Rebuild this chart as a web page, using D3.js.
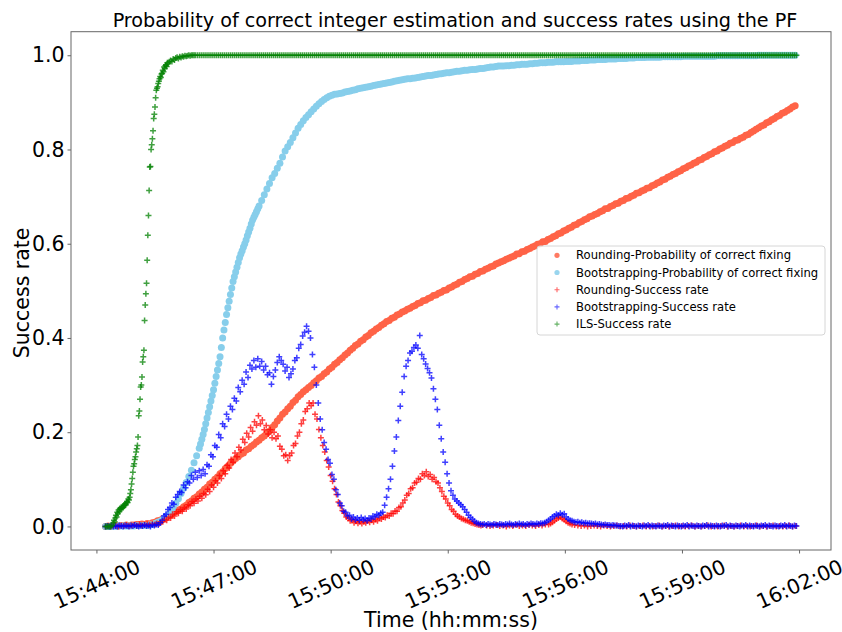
<!DOCTYPE html>
<html>
<head>
<meta charset="utf-8">
<script src="https://cdn.jsdelivr.net/npm/d3@7/dist/d3.min.js"></script>
<style>
  body { margin: 0; background: #fff; }
  svg { font-family: "DejaVu Sans", sans-serif; }
</style>
</head>
<body>
<svg id="chart" width="842" height="632"></svg>
<script>
// epochs are stored as seconds after this clock time
var startClock = "15:44:00";
var xTickLabels = ["15:44:00", "15:47:00", "15:50:00", "15:53:00", "15:56:00", "15:59:00", "16:02:00"];
var yTickValues = [0, 0.2, 0.4, 0.6, 0.8, 1.0];
var seriesNames = [
  "Rounding-Probability of correct fixing",
  "Bootstrapping-Probability of correct fixing",
  "Rounding-Success rate",
  "Bootstrapping-Success rate",
  "ILS-Success rate"
];

// [seconds, value]
var roundingProb = [
[14,0],[18,0.001],[22,0],[26,0.001],[30,0.002],[34,0.001],[38,0.002],[42,0.002],[46,0.003],[50,0.002],[54,0.003],[58,0.003],[62,0.004],[66,0.004],[70,0.005],[74,0.004],[78,0.006],[82,0.005],[86,0.008],[90,0.009],
[94,0.012],[98,0.013],[102,0.017],[106,0.018],[110,0.022],[114,0.024],[118,0.029],[122,0.031],[126,0.035],[130,0.037],[134,0.042],[138,0.045],[142,0.051],[146,0.054],[150,0.06],[154,0.063],[158,0.069],[162,0.073],[166,0.079],[170,0.083],
[174,0.09],[178,0.094],[182,0.1],[186,0.105],[190,0.112],[194,0.116],[198,0.123],[202,0.128],[206,0.134],[210,0.139],[214,0.144],[218,0.148],[222,0.153],[226,0.156],[230,0.162],[234,0.165],[238,0.17],[242,0.174],[246,0.179],[250,0.183],
[254,0.188],[258,0.192],[262,0.198],[266,0.202],[270,0.21],[274,0.216],[278,0.224],[282,0.23],[286,0.238],[290,0.243],[294,0.25],[298,0.255],[302,0.263],[306,0.268],[310,0.275],[314,0.28],[318,0.286],[322,0.29],[326,0.295],[330,0.299],
[334,0.305],[338,0.309],[342,0.315],[346,0.318],[350,0.324],[354,0.328],[358,0.334],[362,0.338],[366,0.344],[370,0.348],[374,0.354],[378,0.358],[382,0.364],[386,0.368],[390,0.374],[394,0.378],[398,0.384],[402,0.387],[406,0.393],[410,0.396],
[414,0.402],[418,0.405],[422,0.411],[426,0.414],[430,0.419],[434,0.422],[438,0.427],[442,0.43],[446,0.435],[450,0.437],[454,0.442],[458,0.444],[462,0.449],[466,0.451],[470,0.455],[474,0.457],[478,0.461],[482,0.463],[486,0.467],[490,0.469],
[494,0.473],[498,0.475],[502,0.479],[506,0.48],[510,0.484],[514,0.486],[518,0.49],[522,0.491],[526,0.495],[530,0.497],[534,0.501],[538,0.502],[542,0.506],[546,0.508],[550,0.512],[554,0.514],[558,0.518],[562,0.52],[566,0.524],[570,0.526],
[574,0.53],[578,0.531],[582,0.535],[586,0.537],[590,0.541],[594,0.542],[598,0.546],[602,0.548],[606,0.551],[610,0.553],[614,0.557],[618,0.559],[622,0.562],[626,0.564],[630,0.567],[634,0.569],[638,0.572],[642,0.574],[646,0.578],[650,0.579],
[654,0.583],[658,0.584],[662,0.588],[666,0.59],[670,0.593],[674,0.595],[678,0.599],[682,0.6],[686,0.604],[690,0.605],[694,0.609],[698,0.611],[702,0.615],[706,0.617],[710,0.621],[714,0.623],[718,0.627],[722,0.629],[726,0.633],[730,0.635],
[734,0.639],[738,0.641],[742,0.645],[746,0.647],[750,0.651],[754,0.653],[758,0.657],[762,0.659],[766,0.662],[770,0.664],[774,0.668],[778,0.67],[782,0.674],[786,0.675],[790,0.679],[794,0.681],[798,0.685],[802,0.686],[806,0.69],[810,0.692],
[814,0.696],[818,0.697],[822,0.701],[826,0.703],[830,0.707],[834,0.708],[838,0.712],[842,0.714],[846,0.718],[850,0.719],[854,0.723],[858,0.725],[862,0.729],[866,0.731],[870,0.735],[874,0.737],[878,0.741],[882,0.743],[886,0.747],[890,0.749],
[894,0.753],[898,0.755],[902,0.759],[906,0.761],[910,0.765],[914,0.767],[918,0.771],[922,0.773],[926,0.777],[930,0.779],[934,0.783],[938,0.785],[942,0.789],[946,0.791],[950,0.795],[954,0.797],[958,0.801],[962,0.803],[966,0.807],[970,0.809],
[974,0.813],[978,0.815],[982,0.819],[986,0.82],[990,0.824],[994,0.826],[998,0.83],[1002,0.832],[1006,0.836],[1010,0.839],[1014,0.843],[1018,0.846],[1022,0.85],[1026,0.852],[1030,0.857],[1034,0.859],[1038,0.863],[1042,0.866],[1046,0.87],[1050,0.872],
[1054,0.877],[1058,0.879],[1062,0.883],[1066,0.886],[1070,0.89],[1074,0.893]
];

var bootstrapProb = [
[14,0],[18,0],[22,0],[26,0],[30,0],[34,0.001],[38,0.001],[42,0.001],[46,0.001],[50,0.001],[54,0.001],[58,0.001],[62,0.002],[66,0.002],[70,0.002],[74,0.002],[78,0.002],[82,0.003],[86,0.004],[90,0.006],
[94,0.009],[98,0.011],[102,0.015],[106,0.02],[110,0.025],[114,0.032],[118,0.04],[122,0.049],[126,0.059],[130,0.07],[134,0.081],[138,0.093],[142,0.106],[146,0.119],[150,0.135],[154,0.15],[158,0.166],
[160,0.175],[162,0.185],[164,0.195],[166,0.206],[168,0.218],[170,0.23],[172,0.242],[174,0.254],[176,0.266],[178,0.278],[180,0.29],[182,0.304],[184,0.318],[186,0.332],[188,0.346],[190,0.36],[192,0.38],[194,0.4],[196,0.417],[198,0.433],
[200,0.45],[202,0.464],[204,0.478],[206,0.492],[208,0.506],[210,0.52],[212,0.53],[214,0.54],[216,0.55],[218,0.56],[220,0.57],[222,0.578],[224,0.585],[226,0.593],[228,0.6],[230,0.608],[232,0.617],[234,0.625],[236,0.633],[238,0.642],
[240,0.65],[242,0.656],[244,0.662],[246,0.668],[248,0.674],[250,0.68],
[254,0.692],[258,0.704],[262,0.716],[266,0.728],[270,0.74],[274,0.749],[278,0.76],[282,0.771],[286,0.784],[290,0.797],[294,0.806],[298,0.815],[302,0.825],[306,0.835],[310,0.845],[314,0.853],[318,0.861],[322,0.868],[326,0.874],[330,0.88],
[334,0.886],[338,0.892],[342,0.897],[346,0.902],[350,0.906],[354,0.91],[358,0.913],[362,0.915],[366,0.917],[370,0.918],[374,0.919],[378,0.92],[382,0.922],[386,0.923],[390,0.924],[394,0.926],[398,0.927],[402,0.929],[406,0.93],
[410,0.931],[414,0.932],[418,0.933],[422,0.934],[426,0.936],[430,0.937],[434,0.938],[438,0.939],[442,0.94],[446,0.941],[450,0.942],[454,0.943],[458,0.945],[462,0.946],[466,0.947],[470,0.948],[474,0.949],[478,0.95],[482,0.95],[486,0.951],
[490,0.952],[494,0.953],[498,0.954],[502,0.955],[506,0.956],[510,0.957],[514,0.957],[518,0.958],[522,0.959],[526,0.96],[530,0.961],[534,0.962],[538,0.963],[542,0.963],[546,0.964],
[550,0.965],[554,0.966],[558,0.966],[562,0.967],[566,0.968],[570,0.968],[574,0.969],[578,0.97],[582,0.97],[586,0.971],[590,0.972],[594,0.972],[598,0.973],[602,0.974],[606,0.975],[610,0.975],[614,0.976],[618,0.977],[622,0.977],[626,0.977],
[630,0.978],[634,0.978],[638,0.979],[642,0.979],[646,0.98],[650,0.98],[654,0.981],[658,0.981],[662,0.981],[666,0.982],[670,0.982],[674,0.983],[678,0.983],[682,0.984],[686,0.984],[690,0.984],[694,0.985],[698,0.985],
[702,0.985],[706,0.986],[710,0.986],[714,0.986],[718,0.986],[722,0.987],[726,0.987],[730,0.987],[734,0.988],[738,0.988],[742,0.988],[746,0.989],[750,0.989],[754,0.989],[758,0.99],[762,0.99],[766,0.99],[770,0.991],[774,0.991],[778,0.991],
[782,0.991],[786,0.992],[790,0.992],[794,0.992],[798,0.992],[802,0.993],[806,0.993],[810,0.993],[814,0.993],[818,0.994],[822,0.994],[826,0.994],[830,0.995],[834,0.995],[838,0.995],[842,0.995],[846,0.996],[850,0.996],[854,0.996],[858,0.996],
[862,0.996],[866,0.996],[870,0.997],[874,0.997],[878,0.997],[882,0.997],[886,0.997],[890,0.997],[894,0.997],[898,0.997],[902,0.998],[906,0.998],[910,0.998],[914,0.998],[918,0.998],[922,0.998],[926,0.998],[930,0.998],[934,0.998],[938,0.998],
[942,0.998],[946,0.998],[950,0.998],[954,0.999],[958,0.999],[962,0.999],[966,0.999],[970,0.999],[974,0.999],[978,0.999],[982,0.999],[986,0.999],[990,0.999],[994,0.999],[998,0.999],[1002,0.999],[1006,0.999],[1010,0.999],[1014,0.999],
[1018,1],[1022,1],[1026,1],[1030,1],[1034,1],[1038,1],[1042,1],[1046,1],[1050,1],[1054,1],[1058,1],[1062,1],[1066,1],[1070,1],[1074,1]
];

var roundingSuccess = [
[14,0],[18,0.001],[22,0],[26,0.002],[30,0.001],[34,0],[38,0.002],[42,0.001],[46,0.003],[50,0.001],[54,0.002],[58,0.003],[62,0.002],[66,0.004],[70,0.002],[74,0.003],[78,0.004],[82,0.003],[86,0.005],[90,0.004],
[93,0.006],[96,0.005],[99,0.009],[102,0.01],[105,0.015],[108,0.013],[111,0.02],[114,0.018],[117,0.026],[120,0.022],[123,0.031],[126,0.028],[129,0.036],[132,0.032],[135,0.04],[138,0.037],[141,0.046],[144,0.044],[147,0.053],[150,0.049],
[153,0.058],[156,0.054],[159,0.064],[162,0.06],[165,0.07],[168,0.067],[171,0.079],[174,0.074],[177,0.088],[180,0.083],[183,0.097],[186,0.092],[189,0.108],[192,0.102],[195,0.118],[198,0.112],[201,0.13],[204,0.124],[207,0.142],[210,0.136],
[213,0.156],[216,0.148],[219,0.168],[222,0.162],[225,0.185],[228,0.178],[231,0.198],[234,0.19],[237,0.21],[240,0.202],[243,0.222],[246,0.215],[249,0.235],[252,0.218],[255,0.226],[258,0.205],[261,0.214],[264,0.196],[267,0.205],[270,0.188],
[273,0.2],[276,0.186],[279,0.192],[282,0.17],[285,0.164],[288,0.15],[291,0.152],[294,0.14],[297,0.15],[300,0.156],[303,0.172],[306,0.176],[309,0.192],[312,0.2],[315,0.218],[318,0.226],[321,0.244],[324,0.25],[327,0.262],[330,0.256],
[333,0.262],[336,0.238],[339,0.228],[342,0.206],[345,0.188],[348,0.172],[351,0.158],[354,0.14],[357,0.126],[360,0.108],[363,0.096],[366,0.08],[369,0.068],[372,0.052],[375,0.044],[378,0.034],[381,0.028],[384,0.02],[387,0.018],[390,0.012],
[393,0.014],[396,0.008],[399,0.011],[402,0.007],[405,0.01],[408,0.006],[411,0.01],[414,0.008],[417,0.012],[420,0.009],[423,0.013],[426,0.01],[429,0.015],[432,0.012],[435,0.018],[438,0.016],[441,0.02],[444,0.019],[447,0.024],[450,0.022],
[453,0.028],[456,0.027],[459,0.033],[462,0.032],[465,0.04],[468,0.042],[471,0.05],[474,0.056],[477,0.066],[480,0.07],[483,0.08],[486,0.082],[489,0.092],[492,0.094],[495,0.102],[498,0.1],[501,0.112],[504,0.108],[507,0.116],[510,0.106],
[513,0.11],[516,0.1],[519,0.104],[522,0.095],[525,0.092],[528,0.082],[531,0.074],[534,0.064],[537,0.058],[540,0.05],[543,0.044],[546,0.036],[549,0.032],[552,0.026],[555,0.022],[558,0.02],[561,0.017],[564,0.015],[567,0.013],[570,0.012],
[573,0.01],[576,0.008],[579,0.007],[582,0.005],[585,0.004],[588,0.003],[591,0.002],[594,0.003],
[600,0.002],[605,0.001],[610,0.002],[615,0.003],[620,0.001],[625,0.002],[630,0],[635,0.002],[640,0.001],[645,0.003],[650,0.001],[655,0.002],[660,0.001],[665,0.003],[670,0.002],[675,0.001],[680,0.003],[685,0.002],[690,0.004],[695,0.004],
[698,0.006],[701,0.009],[704,0.012],[707,0.016],[710,0.018],[713,0.02],[716,0.017],[719,0.014],[722,0.011],[725,0.008],[728,0.006],[731,0.004],[735,0.003],
[740,0.002],[745,0.001],[750,0.002],[755,0],[760,0.001],[765,0.002],[770,0.001],[775,0],[780,0.002],[785,0.001],[790,0],[795,0.001],[800,0.002],[805,0],[810,0.001],[815,0],[820,0.002],[825,0.001],[830,0],[835,0.001],
[840,0.002],[845,0],[850,0.001],[855,0],[860,0.001],[865,0.002],[870,0],[875,0.001],[880,0],[885,0.001],[890,0.002],[895,0],[900,0.001],[905,0],[910,0.001],[915,0.002],[920,0],[925,0.001],[930,0],[935,0.001],
[940,0.002],[945,0],[950,0.001],[955,0],[960,0.001],[965,0.002],[970,0],[975,0.001],[980,0],[985,0.001],[990,0.002],[995,0],[1000,0.001],[1005,0],[1010,0.001],[1015,0.002],[1020,0],[1025,0.001],[1030,0],[1035,0.001],
[1040,0.002],[1045,0],[1050,0.001],[1055,0],[1060,0.001],[1065,0.002],[1070,0],[1075,0.001]
];

var bootstrapSuccess = [
[14,0],[17,0.001],[20,0],[23,0.002],[26,0],[29,0.001],[32,0],[35,0.002],[38,0.001],[41,0],[44,0.002],[47,0.001],[50,0],[53,0.002],[56,0.001],[59,0.003],[62,0.001],[65,0],[68,0.002],[71,0.001],
[74,0.003],[77,0.001],[80,0.002],[83,0],[86,0.003],[89,0.002],[92,0.004],[95,0.003],
[98,0.008],[101,0.013],[104,0.022],[107,0.026],[110,0.036],[113,0.04],[116,0.05],[119,0.047],[122,0.062],[125,0.068],[128,0.074],[131,0.072],[134,0.088],[137,0.082],[140,0.095],[143,0.092],[146,0.108],[149,0.1],[152,0.115],[155,0.104],
[158,0.118],[161,0.108],[164,0.121],[167,0.112],[170,0.131],[173,0.128],[176,0.152],[179,0.148],[182,0.172],[185,0.168],[188,0.195],[191,0.188],[194,0.218],[197,0.212],[200,0.238],[203,0.228],[206,0.255],[209,0.248],[212,0.272],[215,0.266],
[218,0.295],[221,0.286],[224,0.31],[227,0.302],[230,0.328],[233,0.316],[236,0.342],[239,0.334],[242,0.352],[245,0.338],[248,0.356],[251,0.34],[254,0.35],[257,0.332],[260,0.34],[263,0.322],[266,0.326],[269,0.302],[272,0.318],[275,0.332],
[278,0.348],[281,0.36],[284,0.352],[287,0.344],[290,0.33],[293,0.338],[296,0.316],[299,0.324],[302,0.334],[305,0.352],[308,0.358],[311,0.378],[314,0.386],[317,0.404],[320,0.412],[323,0.425],[326,0.414],[329,0.4],[332,0.365],[335,0.338],
[338,0.3],[341,0.262],[344,0.228],[347,0.205],[350,0.178],[353,0.164],[356,0.142],[359,0.134],[362,0.11],[365,0.1],[368,0.078],[371,0.068],[374,0.05],[377,0.044],[380,0.032],[383,0.03],[386,0.022],[389,0.024],[392,0.016],[395,0.02],
[398,0.014],[401,0.018],[404,0.013],[407,0.019],[410,0.014],[413,0.017],[416,0.012],[419,0.018],[422,0.016],[425,0.022],[428,0.02],[431,0.026],[434,0.024],[437,0.028],[440,0.03],[443,0.045],[446,0.062],[449,0.08],[452,0.1],[455,0.128],
[458,0.16],[461,0.19],[464,0.225],[467,0.255],[470,0.285],[473,0.318],[476,0.34],[479,0.352],[482,0.368],[485,0.372],[488,0.38],[491,0.385],[494,0.378],[497,0.405],[500,0.365],[503,0.356],[506,0.345],[509,0.335],[512,0.326],[515,0.315],
[518,0.292],[521,0.27],[524,0.248],[527,0.215],[530,0.186],[533,0.158],[536,0.136],[539,0.112],[542,0.092],[545,0.076],[548,0.066],[551,0.058],[554,0.054],[557,0.05],[560,0.046],[563,0.042],[566,0.036],[569,0.03],[572,0.024],[575,0.019],
[578,0.015],[581,0.011],[584,0.008],[587,0.006],[590,0.005],[593,0.004],[596,0.005],
[599,0.003],[602,0.005],[605,0.004],[608,0.003],[611,0.005],[614,0.004],[617,0.003],[620,0.005],[623,0.004],[626,0.003],[629,0.005],[632,0.004],[635,0.006],[638,0.004],[641,0.003],[644,0.005],[647,0.004],[650,0.006],[653,0.004],[656,0.005],
[659,0.003],[662,0.005],[665,0.004],[668,0.006],[671,0.005],[674,0.004],[677,0.006],[680,0.005],[683,0.007],[686,0.006],[689,0.008],[692,0.01],[695,0.013],[698,0.016],[701,0.02],[704,0.022],[707,0.026],[710,0.024],[713,0.028],[716,0.025],
[719,0.027],[722,0.02],[725,0.016],[728,0.013],[731,0.012],[734,0.01],[737,0.009],[740,0.01],[743,0.008],[746,0.009],[749,0.007],[752,0.008],[755,0.006],[758,0.007],[761,0.006],[764,0.005],[767,0.006],[770,0.004],[773,0.005],[776,0.004],
[779,0.003],[782,0.004],[785,0.003],[788,0.003],[791,0.002],[794,0.003],[797,0.002],[800,0.002],[803,0.001],
[806,0.001],[809,0],[812,0.002],[815,0.001],[818,0.003],[821,0],[824,0.002],[827,0.001],[830,0],[833,0.002],[836,0.001],[839,0],[842,0.002],[845,0.001],[848,0.003],[851,0],[854,0.002],[857,0.001],[860,0],[863,0.002],
[866,0.001],[869,0],[872,0.002],[875,0.001],[878,0.003],[881,0],[884,0.002],[887,0.001],[890,0],[893,0.002],[896,0.001],[899,0],[902,0.002],[905,0.001],[908,0.003],[911,0],[914,0.002],[917,0.001],[920,0],[923,0.002],
[926,0.001],[929,0],[932,0.002],[935,0.001],[938,0.003],[941,0],[944,0.002],[947,0.001],[950,0],[953,0.002],[956,0.001],[959,0],[962,0.002],[965,0.001],[968,0.003],[971,0],[974,0.002],[977,0.001],[980,0],[983,0.002],
[986,0.001],[989,0],[992,0.002],[995,0.001],[998,0.003],[1001,0],[1004,0.002],[1007,0.001],[1010,0],[1013,0.002],[1016,0.001],[1019,0],[1022,0.002],[1025,0.001],[1028,0.003],[1031,0],[1034,0.002],[1037,0.001],[1040,0],[1043,0.002],
[1046,0.001],[1049,0],[1052,0.002],[1055,0.001],[1058,0.003],[1061,0],[1064,0.002],[1067,0.001],[1070,0],[1073,0.002],[1076,0.001]
];

var ilsSuccess = [
[14,0],[16,0],[18,0],[20,0],[22,0],[24,0.002],
[26,0.008],[27,0.013],[28,0.01],[29,0.018],[30,0.024],[31,0.02],[32,0.03],[33,0.027],[34,0.035],[35,0.031],[36,0.038],[37,0.036],[38,0.04],[39,0.038],[40,0.042],[41,0.04],[42,0.045],[43,0.044],[44,0.048],[45,0.046],[46,0.05],[47,0.053],[48,0.051],[49,0.058],
[50,0.056],[51,0.062],[52,0.07],[53,0.078],[54,0.09],
[55,0.102],[56,0.115],[57,0.128],[58,0.133],[59,0.142],[60,0.148],[61,0.158],[62,0.165],[63,0.172],[64,0.19],[65,0.235],[66,0.245],[67,0.27],[68,0.296],[69,0.3],[70,0.317],[71,0.349],[72,0.36],[73,0.374],[74,0.437],
[75,0.47],[76,0.494],[77,0.516],[78,0.565],[79,0.618],[80,0.66],[81,0.713],[82,0.763],[83,0.764],[84,0.8],[85,0.81],[86,0.823],[87,0.84],[88,0.866],[89,0.875],[90,0.89],[91,0.91],[92,0.926],[93,0.93],[94,0.933],
[95,0.94],[96,0.945],[97,0.95],[98,0.955],[99,0.953],[100,0.96],[101,0.962],[102,0.968],[103,0.965],[104,0.975],[105,0.972],[106,0.978],[107,0.98],[108,0.976],[109,0.984],[110,0.982],[112,0.986],[114,0.989],[116,0.987],[118,0.992],
[120,0.99],[122,0.994],[124,0.996],[126,0.993],[128,0.997],[130,0.995],[132,0.998],[134,0.997],[136,0.999],[138,0.998],[140,0.999],[142,1],[144,0.999],[146,1],[148,1],[150,1],
[152,1],[155,1],[158,1],[161,1],[164,1],[167,1],[170,1],[173,1],[176,1],[179,1],[182,1],[185,1],[188,1],[191,1],[194,1],[197,1],[200,1],[203,1],[206,1],[209,1],
[212,1],[215,1],[218,1],[221,1],[224,1],[227,1],[230,1],[233,1],[236,1],[239,1],[242,1],[245,1],[248,1],[251,1],[254,1],[257,1],[260,1],[263,1],[266,1],[269,1],
[272,1],[275,1],[278,1],[281,1],[284,1],[287,1],[290,1],[293,1],[296,1],[299,1],[302,1],[305,1],[308,1],[311,1],[314,1],[317,1],[320,1],[323,1],[326,1],[329,1],
[332,1],[335,1],[338,1],[341,1],[344,1],[347,1],[350,1],[353,1],[356,1],[359,1],[362,1],[365,1],[368,1],[371,1],[374,1],[377,1],[380,1],[383,1],[386,1],[389,1],
[392,1],[395,1],[398,1],[401,1],[404,1],[407,1],[410,1],[413,1],[416,1],[419,1],[422,1],[425,1],[428,1],[431,1],[434,1],[437,1],[440,1],[443,1],[446,1],[449,1],
[452,1],[455,1],[458,1],[461,1],[464,1],[467,1],[470,1],[473,1],[476,1],[479,1],[482,1],[485,1],[488,1],[491,1],[494,1],[497,1],[500,1],[503,1],[506,1],[509,1],
[512,1],[515,1],[518,1],[521,1],[524,1],[527,1],[530,1],[533,1],[536,1],[539,1],[542,1],[545,1],[548,1],[551,1],[554,1],[557,1],[560,1],[563,1],[566,1],[569,1],
[572,1],[575,1],[578,1],[581,1],[584,1],[587,1],[590,1],[593,1],[596,1],[599,1],[602,1],[605,1],[608,1],[611,1],[614,1],[617,1],[620,1],[623,1],[626,1],[629,1],
[632,1],[635,1],[638,1],[641,1],[644,1],[647,1],[650,1],[653,1],[656,1],[659,1],[662,1],[665,1],[668,1],[671,1],[674,1],[677,1],[680,1],[683,1],[686,1],[689,1],
[692,1],[695,1],[698,1],[701,1],[704,1],[707,1],[710,1],[713,1],[716,1],[719,1],[722,1],[725,1],[728,1],[731,1],[734,1],[737,1],[740,1],[743,1],[746,1],[749,1],
[752,1],[755,1],[758,1],[761,1],[764,1],[767,1],[770,1],[773,1],[776,1],[779,1],[782,1],[785,1],[788,1],[791,1],[794,1],[797,1],[800,1],[803,1],[806,1],[809,1],
[812,1],[815,1],[818,1],[821,1],[824,1],[827,1],[830,1],[833,1],[836,1],[839,1],[842,1],[845,1],[848,1],[851,1],[854,1],[857,1],[860,1],[863,1],[866,1],[869,1],
[872,1],[875,1],[878,1],[881,1],[884,1],[887,1],[890,1],[893,1],[896,1],[899,1],[902,1],[905,1],[908,1],[911,1],[914,1],[917,1],[920,1],[923,1],[926,1],[929,1],
[932,1],[935,1],[938,1],[941,1],[944,1],[947,1],[950,1],[953,1],[956,1],[959,1],[962,1],[965,1],[968,1],[971,1],[974,1],[977,1],[980,1],[983,1],[986,1],[989,1],
[992,1],[995,1],[998,1],[1001,1],[1004,1],[1007,1],[1010,1],[1013,1],[1016,1],[1019,1],[1022,1],[1025,1],[1028,1],[1031,1],[1034,1],[1037,1],[1040,1],[1043,1],[1046,1],[1049,1],
[1052,1],[1055,1],[1058,1],[1061,1],[1064,1],[1067,1],[1070,1],[1073,1],[1076,1]
];

// series in plotting order (later ones drawn on top)
var series = [
  { name: seriesNames[0], data: roundingProb,     marker: "circle", color: "tomato" },
  { name: seriesNames[1], data: bootstrapProb,    marker: "circle", color: "skyblue" },
  { name: seriesNames[2], data: roundingSuccess,  marker: "plus",   color: "red" },
  { name: seriesNames[3], data: bootstrapSuccess, marker: "plus",   color: "blue" },
  { name: seriesNames[4], data: ilsSuccess,       marker: "plus",   color: "green" }
];

var W = 842, H = 632;
var plot = { left: 71, right: 831, top: 31.7, bottom: 550 };
var spineColor = "#666";

var svg = d3.select("#chart");
svg.append("rect").attr("width", W).attr("height", H).attr("fill", "#fff");

var parseClock = d3.timeParse("%H:%M:%S");
var t0 = parseClock(startClock);
function toDate(s) { return new Date(t0.getTime() + s * 1000); }

// scales, with 5% padding like matplotlib
var allSecs = [];
series.forEach(function(s) { s.data.forEach(function(d) { allSecs.push(d[0]); }); });
var ext = d3.extent(allSecs);
var pad = (ext[1] - ext[0]) * 0.05;
var x = d3.scaleTime()
    .domain([toDate(ext[0] - pad), toDate(ext[1] + pad)])
    .range([plot.left, plot.right]);
var y = d3.scaleLinear()
    .domain([-0.05, 1.05])
    .range([plot.bottom, plot.top]);

// points
var plusPath = "M-3,0H3M0,-3V3";
series.forEach(function(s) {
  var g = svg.append("g");
  if (s.marker === "circle") {
    g.selectAll("circle")
      .data(s.data)
      .enter()
      .append("circle")
        .attr("cx", function(d) { return x(toDate(d[0])); })
        .attr("cy", function(d) { return y(d[1]); })
        .attr("r", 3.5)
        .style("fill", s.color);
  } else {
    g.selectAll("path")
      .data(s.data)
      .enter()
      .append("path")
        .attr("d", plusPath)
        .attr("transform", function(d) { return "translate(" + x(toDate(d[0])) + "," + y(d[1]) + ")"; })
        .style("fill", "none")
        .style("stroke", s.color)
        .style("stroke-width", 1.5)
        .style("opacity", 0.75);
  }
});

// axes
var xAxis = svg.append("g")
    .attr("transform", "translate(0," + plot.bottom + ")")
    .call(d3.axisBottom(x)
      .tickValues(xTickLabels.map(parseClock))
      .tickFormat(d3.timeFormat("%H:%M:%S"))
      .tickSize(3.5));
xAxis.select(".domain").remove();
xAxis.selectAll("line").attr("stroke", spineColor);
xAxis.selectAll("text")
    .attr("y", 0)
    .attr("dy", "0.35em")
    .attr("transform", "translate(0,34) rotate(-24)")
    .style("text-anchor", "middle")
    .style("font-size", "20.5px")
    .style("font-family", "DejaVu Sans")
    .style("fill", "#000");

var yAxis = svg.append("g")
    .attr("transform", "translate(" + plot.left + ",0)")
    .call(d3.axisLeft(y)
      .tickValues(yTickValues)
      .tickFormat(d3.format(".1f"))
      .tickSize(3.5)
      .tickPadding(3));
yAxis.select(".domain").remove();
yAxis.selectAll("line").attr("stroke", spineColor);
yAxis.selectAll("text")
    .style("font-size", "20.5px")
    .style("font-family", "DejaVu Sans")
    .style("fill", "#000");

// frame
svg.append("rect")
    .attr("x", plot.left)
    .attr("y", plot.top)
    .attr("width", plot.right - plot.left)
    .attr("height", plot.bottom - plot.top)
    .style("fill", "none")
    .style("stroke", spineColor)
    .style("stroke-width", 1);

// title and axis labels
svg.append("text")
    .attr("x", (plot.left + plot.right) / 2 + 4)
    .attr("y", 26.5)
    .attr("text-anchor", "middle")
    .style("font-size", "19.2px")
    .text("Probability of correct integer estimation and success rates using the PF");

svg.append("text")
    .attr("x", (plot.left + plot.right) / 2)
    .attr("y", 627)
    .attr("text-anchor", "middle")
    .style("font-size", "20.5px")
    .text("Time (hh:mm:ss)");

svg.append("text")
    .attr("transform", "translate(28.5," + ((plot.top + plot.bottom) / 2 + 2) + ") rotate(-90)")
    .attr("text-anchor", "middle")
    .style("font-size", "20.5px")
    .text("Success rate");

// legend
var legendBox = { x: 537, y: 246, w: 288, h: 89 };
svg.append("rect")
    .attr("x", legendBox.x)
    .attr("y", legendBox.y)
    .attr("width", legendBox.w)
    .attr("height", legendBox.h)
    .attr("rx", 3)
    .style("fill", "#fff")
    .style("fill-opacity", 0.8)
    .style("stroke", "#d6d6d6");

var legend = svg.selectAll(".legend")
    .data(series)
    .enter().append("g")
    .attr("class", "legend")
    .attr("transform", function(d, i) { return "translate(" + (legendBox.x + 20) + "," + (legendBox.y + 9.3 + i * 17.2) + ")"; });

legend.each(function(d) {
  var g = d3.select(this);
  if (d.marker === "circle") {
    g.append("circle").attr("r", 2.6).style("fill", d.color).style("opacity", 0.85);
  } else {
    g.append("path").attr("d", "M-2.5,0H2.5M0,-2.5V2.5")
      .style("stroke", d.color).style("stroke-width", 1.1).style("opacity", 0.6);
  }
});

legend.append("text")
    .attr("x", 19)
    .attr("dy", "0.35em")
    .style("font-size", "11.6px")
    .text(function(d) { return d.name; });
</script>
</body>
</html>
